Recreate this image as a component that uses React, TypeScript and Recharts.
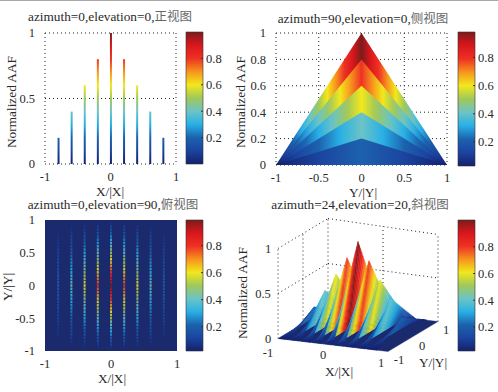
import {
  Area,
  Bar,
  CartesianGrid,
  ComposedChart,
  ReferenceArea,
  ReferenceDot,
  ReferenceLine,
  Scatter,
  XAxis,
  YAxis,
} from 'recharts';

const W = 498;
const H = 392;
const FONT = '"Liberation Serif", "Noto Sans CJK SC", serif';
const INK = '#2a2a2a';
const AXIS = 30; // room reserved for each tick column

// colour map as printed in the colour bars
const jetStops = [0, 0.1, 0.2, 0.3, 0.4, 0.5, 0.6, 0.7, 0.8, 0.9, 1];
const jetColors = ['#14206b', '#1b44a0', '#1c62ae', '#28b0e6', '#6cc4c4', '#a0c85a', '#f2e81c', '#f7941d', '#ee3124', '#d9161c', '#7c1c1c'];

// peaks of the nine ridges
const ridgeX = [-0.8, -0.6, -0.4, -0.2, 0, 0.2, 0.4, 0.6, 0.8];
const ridgePeak = [0.2, 0.4, 0.6, 0.8, 1, 0.8, 0.6, 0.4, 0.2];

// profile along Y
const yStations = [-1, -0.95, -0.9, -0.85, -0.8, -0.75, -0.7, -0.65, -0.6, -0.55, -0.5, -0.45, -0.4, -0.35, -0.3, -0.25, -0.2, -0.15, -0.1, -0.05, 0, 0.05, 0.1, 0.15, 0.2, 0.25, 0.3, 0.35, 0.4, 0.45, 0.5, 0.55, 0.6, 0.65, 0.7, 0.75, 0.8, 0.85, 0.9, 0.95, 1];
const yProfile = [0, 0.05, 0.1, 0.15, 0.2, 0.25, 0.3, 0.35, 0.4, 0.45, 0.5, 0.55, 0.6, 0.65, 0.7, 0.75, 0.8, 0.85, 0.9, 0.95, 1, 0.95, 0.9, 0.85, 0.8, 0.75, 0.7, 0.65, 0.6, 0.55, 0.5, 0.45, 0.4, 0.35, 0.3, 0.25, 0.2, 0.15, 0.1, 0.05, 0];

// side view outlines, back layer first
const sideX = [-1, 0, 1];
const sideShape = [0, 1, 0];
const sideLayers = [1, 0.8, 0.6, 0.4, 0.2];

const tickX3 = [-1, 0, 1];
const tickHalf = [-1, -0.5, 0, 0.5, 1];
const tickLevel = [0, 0.5, 1];
const tickFifths = [0, 0.2, 0.4, 0.6, 0.8, 1];
const barTicks = [0.2, 0.4, 0.6, 0.8];

function jet(v: number) {
  const t = Math.max(0, Math.min(1, v));
  let i = 0;
  while (i < jetStops.length - 2 && t > jetStops[i + 1]) i++;
  const f = (t - jetStops[i]) / (jetStops[i + 1] - jetStops[i]);
  const a = parseInt(jetColors[i].slice(1), 16);
  const b = parseInt(jetColors[i + 1].slice(1), 16);
  const mix = (s: number) => Math.round(((a >> s) & 255) * (1 - f) + ((b >> s) & 255) * f);
  return `rgb(${mix(16)},${mix(8)},${mix(0)})`;
}

// view(24,20) as it falls on the page, in pixels so that one data unit is one pixel
function project(x: number, y: number, z: number) {
  return {
    sx: 358 + 55 * x + 25 * y,
    sy: 330 + 6.5 * x - 15 * y - z * (90 - 1.5 * (x + 1)),
  };
}

const stemData = ridgeX.map((x, i) => ({ x, z: ridgePeak[i] }));
const sideData = sideX.map((y, i) => {
  const row: Record<string, number> = { y };
  sideLayers.forEach((h) => {
    row[`h${h * 10}`] = h * sideShape[i];
  });
  return row;
});

const heatData = ridgeX.flatMap((x, k) =>
  yStations.map((y, j) => ({ x, y, v: ridgePeak[k] * yProfile[j] })).filter((c) => c.v > 0.03),
);

function face(corners: { sx: number; sy: number }[], color: string) {
  const sx = corners.reduce((s, c) => s + c.sx, 0) / corners.length;
  const sy = corners.reduce((s, c) => s + c.sy, 0) / corners.length;
  return { sx, sy, color, pts: corners.map((c) => [c.sx - sx, c.sy - sy]) };
}

const surfaceFaces = [
  face([project(-1, -1, 0), project(1, -1, 0), project(1, 1, 0), project(-1, 1, 0)], '#1a2a6c'),
];
ridgeX.forEach((x, k) => {
  for (let j = yStations.length - 1; j > 0; j--) {
    const y0 = yStations[j];
    const y1 = yStations[j - 1];
    const z0 = ridgePeak[k] * yProfile[j];
    const z1 = ridgePeak[k] * yProfile[j - 1];
    surfaceFaces.push(
      face([project(x, y0, z0), project(x, y1, z1), project(x - 0.18, y1, 0), project(x - 0.18, y0, 0)], jet((z0 + z1) / 2)),
    );
  }
});

const grid3d = [
  [[-1, -1, 0], [-1, -1, 1]],
  [[-1, 0, 0], [-1, 0, 1]],
  [[-1, 1, 0], [-1, 1, 1]],
  [[0, 1, 0], [0, 1, 1]],
  [[1, 1, 0], [1, 1, 1]],
  [[-1, -1, 1], [-1, 1, 1]],
  [[-1, 1, 1], [1, 1, 1]],
  [[-1, -1, 0.5], [-1, 1, 0.5]],
  [[-1, 1, 0.5], [1, 1, 0.5]],
];

const labels3d = [
  { text: '1', at: [-1, -1, 1], dx: -10, dy: 0 },
  { text: '0.5', at: [-1, -1, 0.5], dx: -15, dy: 0 },
  { text: '0', at: [-1, -1, 0], dx: -10, dy: 0 },
  { text: '-1', at: [-1, -1, 0], dx: -10, dy: 14 },
  { text: '0', at: [0, -1, 0], dx: -10, dy: 10 },
  { text: '1', at: [1, -1, 0], dx: -7, dy: 11 },
  { text: '-1', at: [1, -1, 0], dx: 11, dy: 8 },
  { text: '0', at: [1, 0, 0], dx: 9, dy: 9 },
  { text: '1', at: [1, 1, 0], dx: 8, dy: 8 },
];

const tickStyle = { fontFamily: FONT, fontSize: 12.5, fill: INK };
const layer = { position: 'absolute', left: 0, top: 0 } as const;

function margins(left: number, top: number, right: number, bottom: number) {
  return { left: left - AXIS, top, right: W - right, bottom: H - bottom - AXIS };
}

function Caption({ x, y, text, cjk, rotate, size = 13.3 }: { x: number; y: number; text: string; cjk?: string; rotate?: boolean; size?: number }) {
  return (
    <div
      style={{
        position: 'absolute',
        left: x,
        top: y,
        transform: `translate(-50%, -50%)${rotate ? ' rotate(-90deg)' : ''}`,
        fontFamily: FONT,
        fontSize: size,
        color: INK,
        whiteSpace: 'nowrap',
        lineHeight: 1,
      }}
    >
      {text}
      {cjk ? <span style={{ color: '#666', fontSize: 12.5 }}>{cjk}</span> : null}
    </div>
  );
}

function ColorBar({ id, left, right, top, bottom, domain }: { id: string; left: number; right: number; top: number; bottom: number; domain: number[] }) {
  return (
    <ComposedChart
      style={layer}
      width={W + AXIS}
      height={H}
      data={[{ k: 'c', range: domain }]}
      margin={{ left, top, right: W - right, bottom: H - bottom }}
      barCategoryGap={0}
    >
      <defs>
        <linearGradient id={id} x1="0" y1="1" x2="0" y2="0">
          {jetStops.map((s, i) => (
            <stop key={s} offset={s} stopColor={jetColors[i]} />
          ))}
        </linearGradient>
      </defs>
      <XAxis dataKey="k" hide />
      <Bar dataKey="range" fill={`url(#${id})`} stroke="#333" strokeWidth={0.6} isAnimationActive={false} />
      <YAxis
        orientation="right"
        type="number"
        domain={domain}
        ticks={barTicks}
        width={AXIS}
        tick={tickStyle}
        tickFormatter={(v: number) => String(v)}
        axisLine={false}
        tickLine={{ stroke: '#333' }}
        tickSize={-2}
        tickMargin={5}
        interval={0}
      />
    </ComposedChart>
  );
}

function FrontView() {
  return (
    <ComposedChart style={layer} width={W} height={H} data={stemData} margin={margins(45, 33, 176, 164)}>
      <defs>
        <linearGradient id="stem" gradientUnits="userSpaceOnUse" x1="0" y1="164" x2="0" y2="33">
          {jetStops.map((s, i) => (
            <stop key={s} offset={s} stopColor={jetColors[i]} />
          ))}
        </linearGradient>
      </defs>
      <CartesianGrid stroke="#222" strokeDasharray="1 3" verticalValues={tickX3} horizontalValues={tickLevel} />
      <XAxis dataKey="x" type="number" domain={[-1, 1]} ticks={tickX3} height={AXIS} tick={tickStyle} axisLine={false} tickLine={false} tickMargin={2} interval={0} />
      <YAxis type="number" domain={[0, 1]} ticks={tickLevel} width={AXIS} tick={tickStyle} axisLine={false} tickLine={false} tickMargin={4} interval={0} />
      <Bar dataKey="z" barSize={2} fill="url(#stem)" isAnimationActive={false} />
    </ComposedChart>
  );
}

function SideView() {
  return (
    <ComposedChart style={layer} width={W} height={H} data={sideData} margin={margins(276, 33, 447, 165)}>
      <defs>
        {sideLayers.map((h) => (
          <linearGradient key={h} id={`side${h * 10}`} x1="0" y1="0" x2="1" y2="0">
            {yStations.map((y, j) => (
              <stop key={y} offset={(y + 1) / 2} stopColor={jet(h * yProfile[j])} />
            ))}
          </linearGradient>
        ))}
      </defs>
      <CartesianGrid stroke="#222" strokeDasharray="1 3" verticalValues={tickHalf} horizontalValues={tickFifths} />
      <XAxis dataKey="y" type="number" domain={[-1, 1]} ticks={tickHalf} height={AXIS} tick={tickStyle} axisLine={false} tickLine={false} tickMargin={2} interval={0} />
      <YAxis type="number" domain={[0, 1]} ticks={tickFifths} width={AXIS} tick={tickStyle} axisLine={false} tickLine={false} tickMargin={4} interval={0} />
      {sideLayers.map((h) => (
        <Area key={h} dataKey={`h${h * 10}`} type="linear" stroke="none" fill={`url(#side${h * 10})`} fillOpacity={1} dot={false} isAnimationActive={false} />
      ))}
    </ComposedChart>
  );
}

function TopView() {
  return (
    <ComposedChart style={layer} width={W} height={H} margin={margins(45, 220, 177, 351)}>
      <XAxis dataKey="x" type="number" domain={[-1, 1]} ticks={tickX3} height={AXIS} tick={tickStyle} axisLine={false} tickLine={false} tickMargin={2} interval={0} />
      <YAxis dataKey="y" type="number" domain={[-1, 1]} ticks={tickHalf} width={AXIS} tick={tickStyle} axisLine={false} tickLine={false} tickMargin={4} interval={0} />
      <ReferenceArea x1={-1} x2={1} y1={-1} y2={1} fill="#1a2a6c" fillOpacity={1} stroke="none" />
      <Scatter
        data={heatData}
        isAnimationActive={false}
        shape={(p: any) => <rect x={p.cx - 1} y={p.cy - 1.3} width={2} height={2.6} fill={jet(p.payload.v)} fillOpacity={0.85} />}
      />
    </ComposedChart>
  );
}

function ObliqueView() {
  return (
    <ComposedChart style={layer} width={W} height={H} margin={{ left: 250, top: 196, right: 0, bottom: 0 }}>
      <XAxis dataKey="sx" type="number" domain={[250, W]} hide />
      <YAxis dataKey="sy" type="number" domain={[196, H]} reversed hide />
      {grid3d.map(([a, b], i) => {
        const p = project(a[0], a[1], a[2]);
        const q = project(b[0], b[1], b[2]);
        return (
          <ReferenceLine key={i} segment={[{ x: p.sx, y: p.sy }, { x: q.sx, y: q.sy }]} stroke="#222" strokeDasharray="1 3" ifOverflow="visible" />
        );
      })}
      <Scatter
        data={surfaceFaces}
        isAnimationActive={false}
        shape={(s: any) => (
          <polygon
            points={s.payload.pts.map((c: number[]) => `${s.cx + c[0]},${s.cy + c[1]}`).join(' ')}
            fill={s.payload.color}
            stroke={s.payload.color}
            strokeWidth={0.4}
          />
        )}
      />
      {labels3d.map((l, i) => {
        const p = project(l.at[0], l.at[1], l.at[2]);
        return (
          <ReferenceDot
            key={i}
            x={p.sx + l.dx}
            y={p.sy + l.dy}
            r={0}
            ifOverflow="visible"
            label={{ value: l.text, position: 'center', style: tickStyle }}
          />
        );
      })}
    </ComposedChart>
  );
}

export default function App() {
  return (
    <div style={{ position: 'absolute', left: 0, top: 0, width: W, height: H, background: '#fff', overflow: 'hidden' }}>
      <div style={{ position: 'absolute', left: 0, top: 0, width: W, height: 1, background: '#aaa' }} />
      <FrontView />
      <SideView />
      <TopView />
      <ObliqueView />
      <ColorBar id="bar1" left={186} right={203} top={32} bottom={164} domain={[0, 1]} />
      <ColorBar id="bar2" left={458} right={475} top={32} bottom={166} domain={[0.03, 0.98]} />
      <ColorBar id="bar3" left={186} right={203} top={220} bottom={351} domain={[0.02, 0.99]} />
      <ColorBar id="bar4" left={458} right={475} top={220} bottom={351} domain={[0.02, 1]} />

      <Caption x={110} y={17} text="azimuth=0,elevation=0," cjk="正视图" />
      <Caption x={363} y={19} text="azimuth=90,elevation=0," cjk="侧视图" />
      <Caption x={113} y={205} text="azimuth=0,elevation=90," cjk="俯视图" />
      <Caption x={360} y={205} text="azimuth=24,elevation=20," cjk="斜视图" />

      <Caption x={12} y={102} text="Normalized AAF" rotate />
      <Caption x={241} y={102} text="Normalized AAF" rotate />
      <Caption x={243} y={293} text="Normalized AAF" rotate />
      <Caption x={8} y={287} text="Y/|Y|" rotate />

      <Caption x={110} y={192} text="X/|X|" />
      <Caption x={363} y={193} text="Y/|Y|" />
      <Caption x={112} y={379} text="X/|X|" />
      <Caption x={339} y={372} text="X/|X|" />
      <Caption x={433} y={363} text="Y/|Y|" />
    </div>
  );
}
